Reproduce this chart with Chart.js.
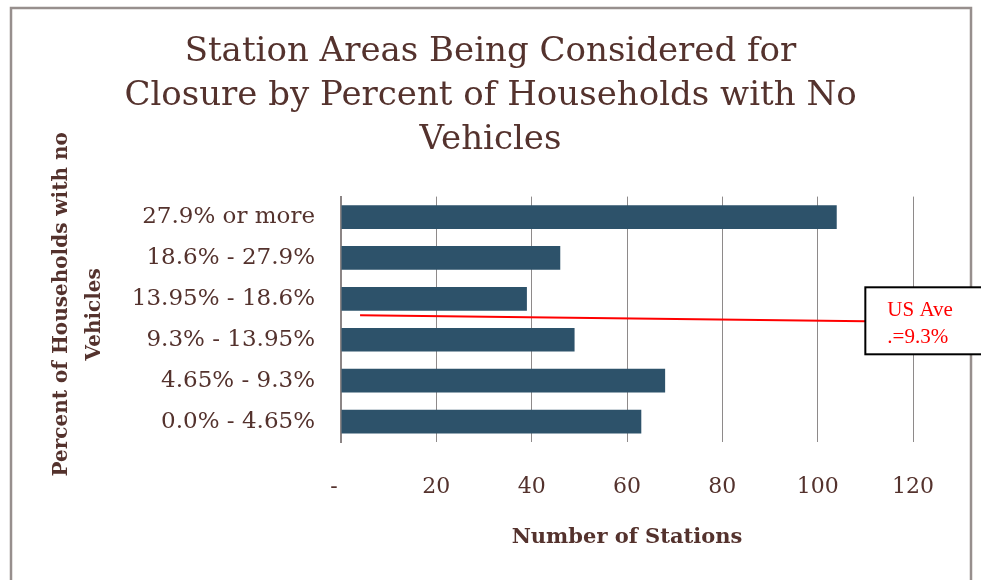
<!DOCTYPE html>
<html>
<head>
<meta charset="utf-8">
<style>
  html, body { margin: 0; padding: 0; background: #fff; }
  #wrap { width: 981px; height: 580px; }
</style>
<script src="https://cdn.jsdelivr.net/npm/chart.js@4/dist/chart.umd.min.js"></script>
</head>
<body>
<div id="wrap"><canvas id="stations" width="981" height="580"></canvas></div>
<script>
// station counts by share of households without a vehicle
var categories = ['27.9% or more', '18.6% - 27.9%', '13.95% - 18.6%', '9.3% - 13.95%', '4.65% - 9.3%', '0.0% - 4.65%'];
var stationCounts = [104, 46, 39, 49, 68, 63];
var tickValues = [0, 20, 40, 60, 80, 100, 120];
var tickLabels = ['-  ', '20', '40', '60', '80', '100', '120'];
var titleLines = ['Station Areas Being Considered for', 'Closure by Percent of Households with No', 'Vehicles'];
var yTitleLines = ['Percent of Households with no', 'Vehicles'];
var usAveLines = ['US Ave', '.=9.3%'];

var textColor = '#54322d';
var serif = "'DejaVu Serif', serif";

Chart.defaults.font.family = serif;
Chart.defaults.color = textColor;

// outer frame (open at the bottom)
var framePlugin = {
  id: 'frame',
  beforeDraw: function(chart) {
    var ctx = chart.ctx;
    ctx.save();
    ctx.strokeStyle = '#978f8d';
    ctx.lineWidth = 2.5;
    ctx.beginPath();
    ctx.moveTo(11, chart.height + 5);
    ctx.lineTo(11, 8);
    ctx.lineTo(971, 8);
    ctx.lineTo(971, chart.height + 5);
    ctx.stroke();
    ctx.restore();
  }
};

// rotated two-line y title
var yTitlePlugin = {
  id: 'yTitle',
  afterDraw: function(chart) {
    var ctx = chart.ctx;
    var area = chart.chartArea;
    var cy = (area.top + area.bottom) / 2 - 15;
    ctx.save();
    ctx.fillStyle = textColor;
    ctx.font = 'bold 20px ' + serif;
    ctx.textAlign = 'center';
    ctx.textBaseline = 'middle';
    yTitleLines.forEach(function(line, i) {
      ctx.save();
      ctx.translate(62 + i * 33, cy + i * 10);
      ctx.rotate(-Math.PI / 2);
      ctx.fillText(line, 0, 0);
      ctx.restore();
    });
    ctx.restore();
  }
};

// US average callout
var usAvePlugin = {
  id: 'usAve',
  afterDatasetsDraw: function(chart) {
    var ctx = chart.ctx;
    var x = chart.scales.x, y = chart.scales.y;
    var yMid = (y.getPixelForValue(2) + y.getPixelForValue(3)) / 2;
    var boxLeft = x.getPixelForValue(110);
    ctx.save();
    ctx.strokeStyle = '#ff0000';
    ctx.lineWidth = 2;
    ctx.beginPath();
    ctx.moveTo(x.getPixelForValue(4), yMid - 4);
    ctx.lineTo(boxLeft, yMid + 2);
    ctx.stroke();

    ctx.fillStyle = '#ffffff';
    ctx.fillRect(boxLeft, yMid - 32, 140, 67);
    ctx.strokeStyle = '#000000';
    ctx.lineWidth = 2;
    ctx.strokeRect(boxLeft, yMid - 32, 140, 67);

    ctx.fillStyle = '#ff0000';
    ctx.font = "21px 'Liberation Serif', 'Times New Roman', serif";
    ctx.textAlign = 'left';
    ctx.textBaseline = 'alphabetic';
    ctx.fillText(usAveLines[0], boxLeft + 22, yMid - 3);
    ctx.fillText(usAveLines[1], boxLeft + 22, yMid + 24);
    ctx.restore();
  }
};

new Chart(document.getElementById('stations'), {
  type: 'bar',
  data: {
    labels: categories,
    datasets: [{
      data: stationCounts,
      backgroundColor: '#2d526a',
      categoryPercentage: 1,
      barPercentage: 0.58
    }]
  },
  options: {
    indexAxis: 'y',
    responsive: false,
    animation: false,
    devicePixelRatio: 1,
    layout: { padding: 0 },
    plugins: {
      legend: { display: false },
      tooltip: { enabled: false },
      title: {
        display: true,
        text: titleLines,
        color: textColor,
        font: { family: serif, size: 34, weight: 'normal', lineHeight: 1.3 },
        padding: { top: 30, bottom: 34 }
      }
    },
    scales: {
      x: {
        min: 0,
        max: 120,
        afterFit: function(scale) { scale.height = 138; },
        afterBuildTicks: function(scale) {
          scale.ticks = tickValues.map(function(v) { return { value: v }; });
        },
        ticks: {
          padding: 32,
          color: textColor,
          font: { size: 22 },
          maxRotation: 0,
          callback: function(v) { return tickLabels[tickValues.indexOf(v)]; }
        },
        grid: { color: '#8e8a8a', lineWidth: 1, drawTicks: false },
        border: { display: false },
        title: {
          display: true,
          text: 'Number of Stations',
          color: textColor,
          font: { size: 21, weight: 'bold' },
          padding: { top: 0, bottom: 30 }
        }
      },
      y: {
        afterFit: function(scale) { scale.width = 341; },
        ticks: {
          padding: 26,
          color: textColor,
          font: { size: 23 }
        },
        grid: { display: false, drawTicks: false },
        border: { display: true, color: '#8c8585', width: 2 }
      },
      // empty right-hand margin so the title stays centred on the full width
      yRight: {
        type: 'linear',
        position: 'right',
        afterFit: function(scale) { scale.width = 68; },
        ticks: { display: false },
        grid: { display: false, drawTicks: false },
        border: { display: false }
      }
    }
  },
  plugins: [framePlugin, yTitlePlugin, usAvePlugin]
});
</script>
</body>
</html>
